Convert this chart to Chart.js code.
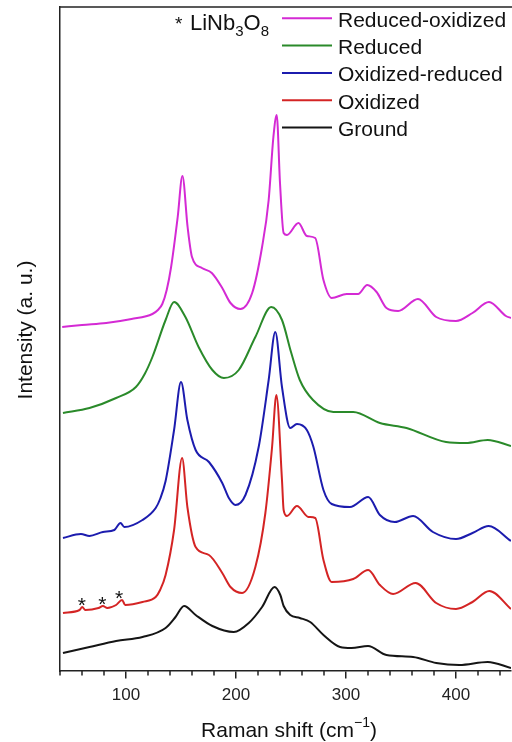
<!DOCTYPE html>
<html><head><meta charset="utf-8">
<script src="https://cdn.jsdelivr.net/npm/chart.js@4.4.1/dist/chart.umd.min.js"></script>
<style>html,body{margin:0;padding:0;background:#fff}canvas{display:block}</style>
</head><body>
<canvas id="c" width="512" height="742"></canvas>
<script>
// ---- data (Raman shift in cm^-1, intensity in arbitrary offset units) ----
const seriesNames = ['Reduced-oxidized', 'Reduced', 'Oxidized-reduced', 'Oxidized', 'Ground'];
const seriesColors = ['#d42ad4', '#2a8a2a', '#1c1cae', '#d42424', '#151515'];

const reducedOxidizedX = [42, 60, 82, 105, 124, 129, 133, 137, 141, 147, 151.3, 156, 160, 169, 178, 187.5, 195, 204, 214.7, 223.7, 229.7, 234, 237, 240, 243.3, 246.3, 256.8, 264.4, 272, 279.5, 287, 300.6, 311, 319.3, 327.8, 336.8, 347.4, 365.4, 382, 400, 415, 430, 445.4, 450];
const reducedOxidizedY = [344, 346, 348, 352, 357, 361, 367, 381, 404, 454, 495, 444, 414, 403, 398, 383, 368, 362, 378, 424, 471, 534, 556, 488, 438, 436, 448, 435, 433, 391, 373, 377, 377, 386, 379, 363, 360, 372, 354, 350, 358, 369, 355, 353];

const reducedX = [42.7, 66.8, 91, 109, 117, 124, 136, 143.7, 154, 166, 178.5, 189, 202.5, 217.6, 232, 241.8, 250, 258, 270, 288.5, 306.6, 330.8, 355, 391, 409, 428.8, 450];
const reducedY = [258, 263, 273, 284, 297, 314, 351, 369, 354, 324, 301, 293, 301, 334, 364, 351, 319, 291, 271, 259, 259, 248, 243, 229, 228, 231, 225];

const oxidizedReducedX = [42.7, 59, 66.8, 79, 89.4, 95, 98.5, 115, 127, 131, 136, 143.7, 150, 155.8, 163.3, 175.4, 187.5, 193.5, 199.5, 208.6, 220.6, 229.7, 235.7, 241.8, 249.3, 255.4, 264.4, 270.4, 279.5, 287, 303.6, 320.2, 330.8, 344.3, 361, 379, 400, 415, 429.7, 450];
const oxidizedReducedY = [133, 137, 135, 139, 141, 148, 144, 151, 163, 172, 190, 241, 289, 251, 221, 209, 188, 173, 166, 176, 224, 291, 339, 284, 243, 247, 241, 224, 181, 167, 164, 174, 156, 149, 155, 139, 132, 138, 145, 130];

const oxidizedX = [42.7, 57.8, 60.2, 63, 75, 79, 83, 91, 96.4, 99.3, 115, 127, 131, 136, 143.7, 151, 155.8, 163.3, 175.4, 187.5, 195, 205.6, 217.6, 226.7, 232.8, 236.7, 241.8, 243.3, 246.3, 255.4, 265.9, 272, 279.5, 287, 306.6, 320.2, 330.8, 342.8, 363.3, 382, 400, 415, 430.3, 450];
const oxidizedY = [58, 61, 64, 61, 63, 65, 63, 66, 71, 66, 69, 74, 81, 96, 141, 213, 164, 124, 116, 98, 84, 78, 104, 158, 224, 276, 191, 161, 155, 165, 154, 153, 111, 89, 92, 101, 86, 77, 88, 68, 62, 69, 80, 62];

const groundX = [42.7, 66.8, 91, 115, 136, 145, 152.8, 163.3, 178.5, 198, 211.6, 223.7, 235, 240.3, 243.3, 249.3, 258, 267.4, 279.5, 294.6, 305, 320, 336.8, 361, 382, 403, 428.8, 450];
const groundY = [18, 24, 30, 34, 43, 54, 65, 56, 45, 39, 48, 64, 84, 76, 65, 56, 53, 49, 36, 24, 23, 25, 16, 14, 8, 6, 9, 3];

// LiNb3O8 star markers (x position, curve value below them)
const starX = [59.8, 78.4, 93.8];
const starY = [64, 65, 71];

// axis ticks
const xTicks = [40, 60, 80, 100, 120, 140, 160, 180, 200, 220, 240, 260, 280, 300, 320, 340, 360, 380, 400, 420, 440];
const majorTicks = [100, 200, 300, 400];
const xMin = 40, xMax = 450, yMin = 0, yMax = 664;

// ---- chart ----
const FONT = '"Liberation Sans", Arial, sans-serif';
Chart.defaults.font.family = FONT;
const xs = [reducedOxidizedX, reducedX, oxidizedReducedX, oxidizedX, groundX];
const ys = [reducedOxidizedY, reducedY, oxidizedReducedY, oxidizedY, groundY];
const datasets = seriesNames.map((n, i) => ({
  label: n,
  data: xs[i].map((x, j) => ({x: x, y: ys[i][j]})),
  borderColor: seriesColors[i],
  borderWidth: 2,
  pointRadius: 0,
  fill: false,
  cubicInterpolationMode: 'monotone'
}));

const overlay = {
  id: 'overlay',
  afterDraw(chart) {
    const ctx = chart.ctx, ca = chart.chartArea, sx = chart.scales.x, sy = chart.scales.y;
    ctx.save();
    ctx.strokeStyle = '#222'; ctx.lineWidth = 1.5;
    // top frame line
    ctx.beginPath(); ctx.moveTo(ca.left - 0.75, ca.top); ctx.lineTo(chart.width, ca.top); ctx.stroke();
    // minor ticks
    xTicks.forEach(v => {
      if (majorTicks.includes(v)) return;
      const px = sx.getPixelForValue(v);
      ctx.beginPath(); ctx.moveTo(px, ca.bottom); ctx.lineTo(px, ca.bottom + 4.5); ctx.stroke();
    });
    // stars
    ctx.fillStyle = '#111';
    ctx.font = '21px ' + FONT; ctx.textAlign = 'center'; ctx.textBaseline = 'alphabetic';
    starX.forEach((v, i) => ctx.fillText('*', sx.getPixelForValue(v), sy.getPixelForValue(starY[i]) + 5));
    // legend
    ctx.textAlign = 'left';
    seriesNames.forEach((n, i) => {
      const y = 18.3 + i * 27.3;
      ctx.strokeStyle = seriesColors[i]; ctx.lineWidth = 2;
      ctx.beginPath(); ctx.moveTo(282, y); ctx.lineTo(332, y); ctx.stroke();
      ctx.fillStyle = '#111'; ctx.font = '21px ' + FONT;
      ctx.fillText(n, 338, y + 8.4);
    });
    // * LiNb3O8 note
    ctx.font = '19px ' + FONT; ctx.fillText('*', 175, 29.5);
    let x = 190;
    const parts = [['LiNb', 22, 30], ['3', 15, 35.5], ['O', 22, 30], ['8', 15, 35.5]];
    parts.forEach(p => { ctx.font = p[1] + 'px ' + FONT; ctx.fillText(p[0], x, p[2]); x += ctx.measureText(p[0]).width; });
    // x axis title with superscript
    const tparts = [['Raman shift (cm', 21, 0], ['\u22121', 14, -10], [')', 21, 0]];
    let tw = 0;
    tparts.forEach(p => { ctx.font = p[1] + 'px ' + FONT; tw += ctx.measureText(p[0]).width; });
    x = 289 - tw / 2;
    tparts.forEach(p => { ctx.font = p[1] + 'px ' + FONT; ctx.fillText(p[0], x, 736.5 + p[2]); x += ctx.measureText(p[0]).width; });
    // y axis title
    ctx.translate(31.5, 330); ctx.rotate(-Math.PI / 2);
    ctx.font = '21px ' + FONT; ctx.textAlign = 'center';
    ctx.fillText('Intensity (a. u.)', 0, 0);
    ctx.restore();
  }
};

new Chart(document.getElementById('c'), {
  type: 'line',
  data: {datasets},
  options: {
    responsive: false,
    animation: false,
    events: [],
    layout: {padding: {top: 7, right: 1, left: 0, bottom: 0}},
    plugins: {legend: {display: false}, tooltip: {enabled: false}},
    scales: {
      x: {
        type: 'linear', min: xMin, max: xMax,
        afterFit: s => { s.height = 71; },
        afterBuildTicks: s => { s.ticks = xTicks.map(v => ({value: v})); },
        ticks: {
          autoSkip: false, maxRotation: 0, padding: 7, color: '#222',
          font: {size: 17, family: FONT},
          callback: v => majorTicks.includes(v) ? String(v) : ''
        },
        grid: {
          display: true, drawOnChartArea: false, drawTicks: true, tickLength: 7.5, lineWidth: 1.5,
          color: c => (c.tick && majorTicks.includes(c.tick.value)) ? '#222' : 'rgba(0,0,0,0)'
        },
        border: {display: true, color: '#222', width: 1.5}
      },
      y: {
        type: 'linear', min: yMin, max: yMax,
        afterFit: s => { s.width = 60; },
        ticks: {display: false},
        grid: {display: false},
        border: {display: true, color: '#222', width: 1.5}
      }
    }
  },
  plugins: [overlay]
});
</script>
</body></html>
